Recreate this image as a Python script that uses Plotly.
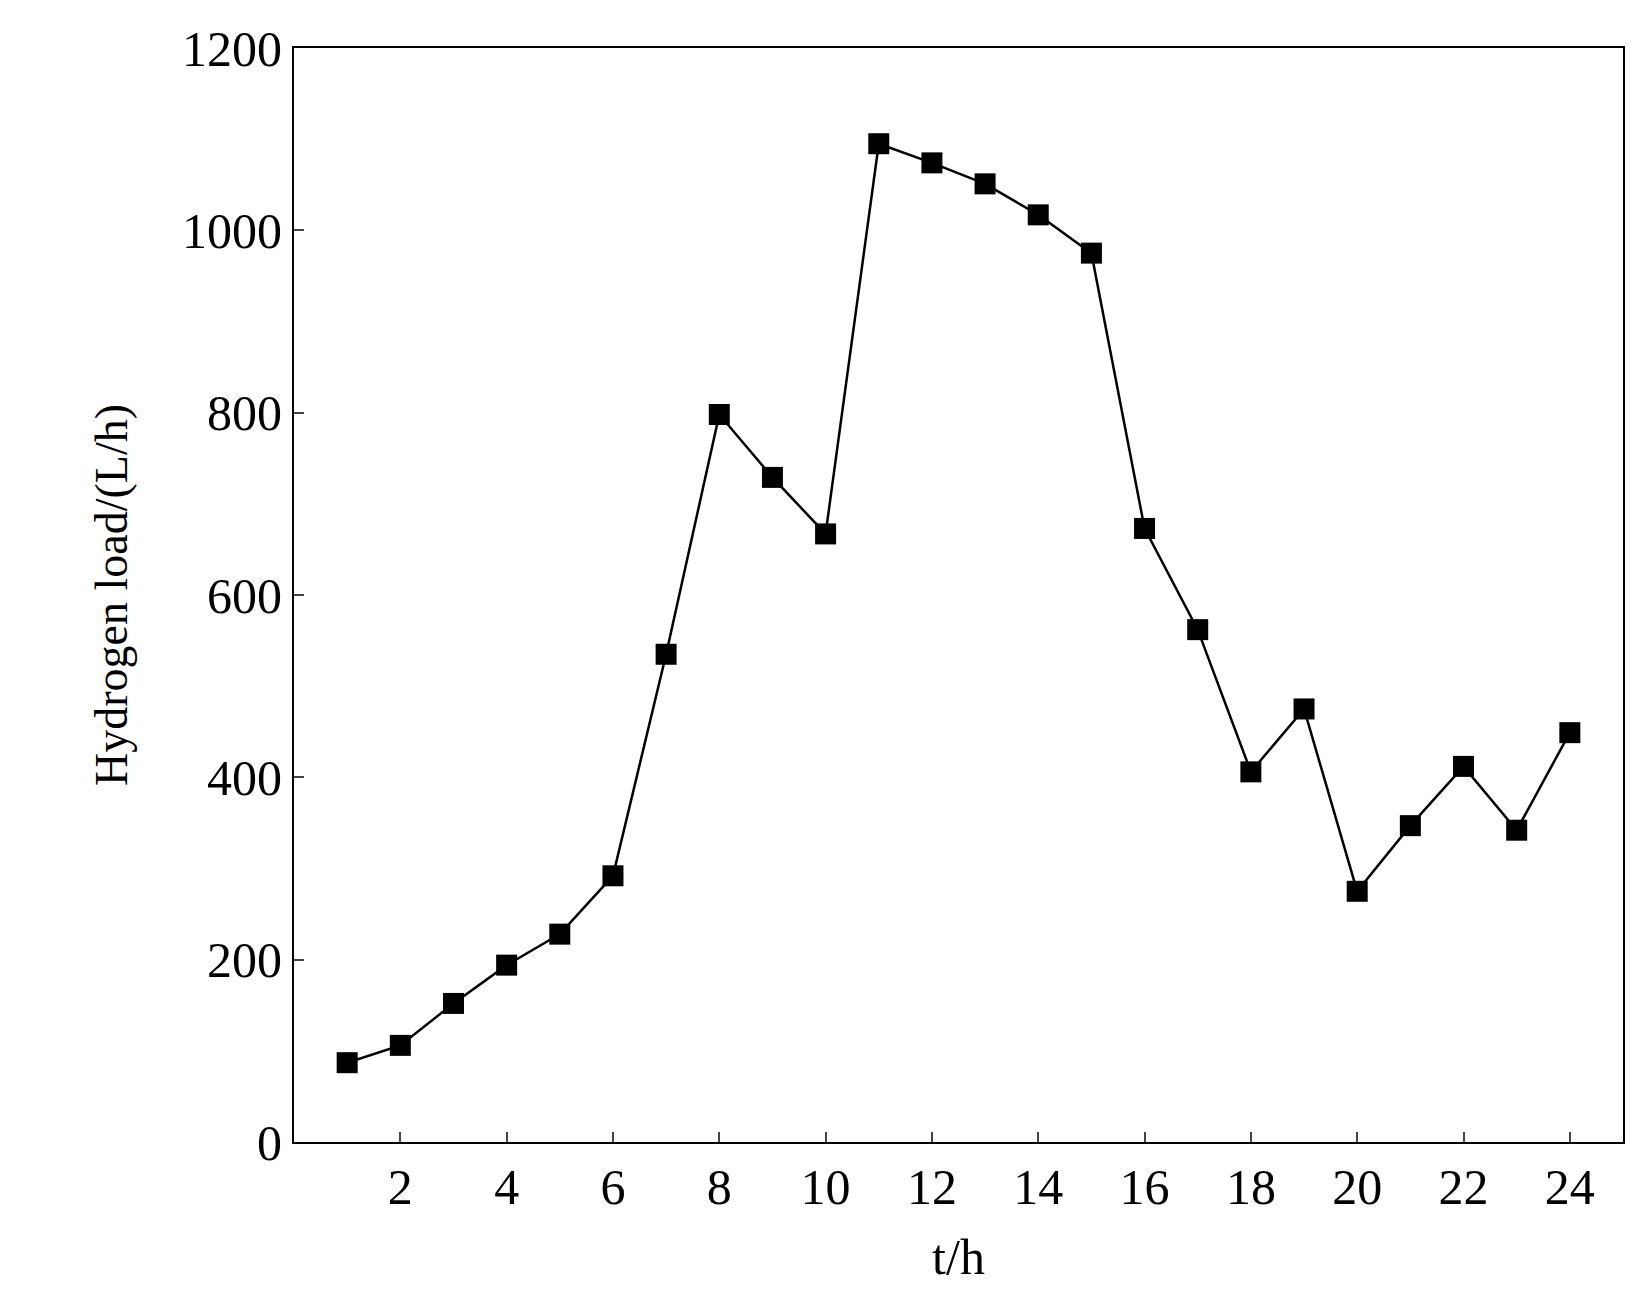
import plotly.graph_objects as go

hours = list(range(1, 25))
load = [87, 106, 152, 194, 228, 292, 535, 798, 729, 667, 1095, 1074, 1051, 1017, 975,
        673, 562, 406, 475, 275, 347, 412, 342, 449]
xticks = list(range(2, 25, 2))
yticks = [0, 200, 400, 600, 800, 1000, 1200]

fig = go.Figure(go.Scatter(x=hours, y=load, mode="lines+markers",
                           line=dict(color="black", width=2.5),
                           marker=dict(symbol="square", size=21, color="black")))
font = dict(family="Liberation Serif, DejaVu Serif, serif", size=50, color="black")
fig.update_layout(
    width=1634, height=1314, plot_bgcolor="white", paper_bgcolor="white",
    margin=dict(l=286, r=19, t=40, b=180), showlegend=False, font=font,
    xaxis=dict(range=[0, 25], tickvals=xticks, ticks="inside", ticklen=10, tickwidth=2,
               showline=True, linecolor="black", linewidth=2, mirror=True,
               showgrid=False, zeroline=False, title=dict(text="t/h", font=font, standoff=25)),
    yaxis=dict(range=[0, 1200], tickvals=yticks, ticks="inside", ticklen=10, tickwidth=2,
               showline=True, linecolor="black", linewidth=2, mirror=True,
               showgrid=False, zeroline=False,
               title=dict(text="Hydrogen load/(L/h)", font=dict(family=font["family"], size=46, color="black"), standoff=40)),
)
fig.write_html("out.html")
